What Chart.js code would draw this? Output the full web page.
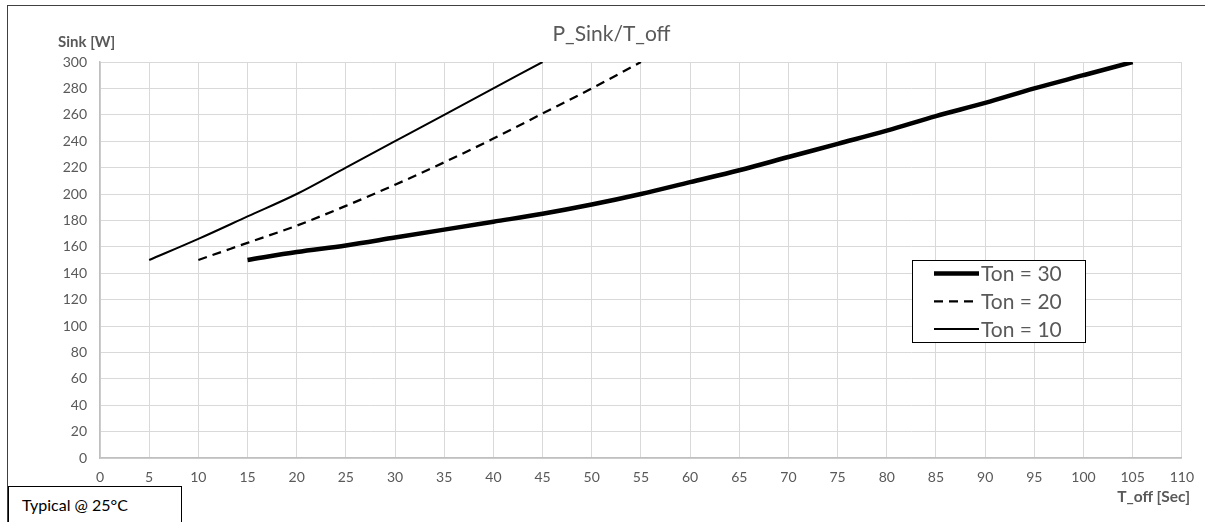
<!DOCTYPE html>
<html>
<head>
<meta charset="utf-8">
<script src="https://cdn.jsdelivr.net/npm/chart.js@4"></script>
<style>
  html, body { margin: 0; padding: 0; background: #fff; overflow: hidden; }
  #wrap { position: relative; width: 1205px; height: 522px; overflow: hidden; }
  #topline { position: absolute; left: 7px; top: 5px; width: 1198px; height: 0; border-top: 1px solid #404040; }
  #leftline { position: absolute; left: 7px; top: 5px; width: 0; height: 517px; border-left: 1px solid #404040; }
  canvas { position: absolute; left: 0; top: 0; }
  .lbl { position: absolute; font-family: Lato, "Open Sans", sans-serif; color: #595959; white-space: nowrap; }
  #title { left: 0; width: 1205px; top: 20px; text-align: center; font-size: 21px; padding-left: 18px; box-sizing: border-box; }
  #ytitle { left: 58px; top: 32px; font-size: 15px; font-weight: bold; }
  #xtitle { right: 15px; top: 487px; font-size: 15.5px; font-weight: bold; }
  #typ { position: absolute; left: 8px; top: 486px; width: 174px; height: 60px; border: 1px solid #000; box-sizing: border-box; background: #fff; }
  #typ span { position: absolute; left: 13px; top: 8px; font-family: Lato, "Open Sans", sans-serif; font-size: 16px; color: #000; }
</style>
</head>
<body>
<div id="wrap">
  <div id="topline"></div>
  <div id="leftline"></div>
  <canvas id="c" width="1205" height="522"></canvas>
  <div class="lbl" id="title">P_Sink/T_off</div>
  <div class="lbl" id="ytitle">Sink [W]</div>
  <div class="lbl" id="xtitle">T_off [Sec]</div>
  <div id="typ"><span>Typical @ 25°C</span></div>
</div>
<script>
// Données
const tOff30 = [15, 20, 25, 30, 35, 40, 45, 50, 55, 60, 65, 70, 75, 80, 85, 90, 95, 100, 105];
const sink30 = [150, 156, 161, 167, 173, 179, 185, 192, 200, 209, 218, 228, 238, 248, 259, 269, 280, 290, 300];
const tOff20 = [10, 15, 20, 25, 30, 35, 40, 45, 50, 55];
const sink20 = [150, 163, 176, 191, 207, 224, 242, 261, 280, 300];
const tOff10 = [5, 10, 15, 20, 25, 30, 35, 40, 45];
const sink10 = [150, 166, 183, 200, 220, 240, 260, 280, 300];
const labels = ['Ton = 30', 'Ton = 20', 'Ton = 10'];

const pts = (xs, ys) => xs.map((x, i) => ({ x, y: ys[i] }));

// Légende dessinée dans la zone du graphique
const legendBox = {
  id: 'legendBox',
  afterDraw(chart) {
    const ctx = chart.ctx;
    const x0 = 912.5, y0 = 260.5, w = 173, h = 82;
    ctx.save();
    ctx.fillStyle = '#fff';
    ctx.fillRect(x0, y0, w, h);
    ctx.strokeStyle = '#000';
    ctx.lineWidth = 1;
    ctx.strokeRect(x0, y0, w, h);
    chart.data.datasets.forEach((ds, i) => {
      const y = y0 + 13 + i * 27.8;
      ctx.beginPath();
      ctx.setLineDash(ds.borderDash || []);
      ctx.lineWidth = ds.borderWidth;
      ctx.strokeStyle = ds.borderColor;
      ctx.moveTo(934, y);
      ctx.lineTo(979, y);
      ctx.stroke();
      ctx.setLineDash([]);
      ctx.fillStyle = '#595959';
      ctx.font = '21px Lato, "Open Sans", sans-serif';
      ctx.textBaseline = 'middle';
      ctx.fillText(ds.label, 981, y + 1);
    });
    ctx.restore();
  }
};

function init() {
  const ctx = document.getElementById('c').getContext('2d');
  new Chart(ctx, {
    type: 'line',
    data: {
      datasets: [
        { label: labels[0], data: pts(tOff30, sink30), borderColor: '#000', borderWidth: 4.5, pointRadius: 0, cubicInterpolationMode: 'monotone' },
        { label: labels[1], data: pts(tOff20, sink20), borderColor: '#000', borderWidth: 2.25, borderDash: [9, 6], pointRadius: 0, cubicInterpolationMode: 'monotone' },
        { label: labels[2], data: pts(tOff10, sink10), borderColor: '#000', borderWidth: 2, pointRadius: 0, cubicInterpolationMode: 'monotone' }
      ]
    },
    options: {
      responsive: false,
      animation: false,
      layout: { padding: { left: 0, top: 62, right: 22, bottom: 0 } },
      plugins: { legend: { display: false }, tooltip: { enabled: false } },
      scales: {
        x: {
          type: 'linear', min: 0, max: 110,
          afterFit: (s) => { s.height = 64; },
          ticks: { stepSize: 5, padding: 11, color: '#595959', font: { family: 'Lato', size: 14 } },
          grid: { color: '#d9d9d9', drawTicks: false },
          border: { color: '#bfbfbf', width: 1.5 }
        },
        y: {
          min: 0, max: 300,
          afterFit: (s) => { s.width = 100; },
          ticks: { stepSize: 20, padding: 13, color: '#595959', font: { family: 'Lato', size: 14 } },
          grid: { color: '#d9d9d9', drawTicks: false },
          border: { color: '#bfbfbf', width: 1.5 }
        }
      }
    },
    plugins: [legendBox]
  });
}

if (document.readyState === 'loading') document.addEventListener('DOMContentLoaded', init);
else init();
</script>
</body>
</html>
